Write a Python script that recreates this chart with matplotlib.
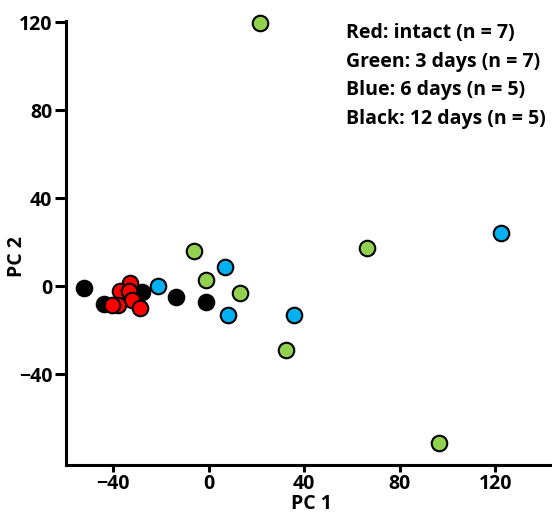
import matplotlib
matplotlib.use('Agg')
import matplotlib.pyplot as plt

# PCA scores
red_x = [-32.9, -37.3, -33.3, -32.1, -28.7, -38.1, -40.6]
red_y = [1.5, -2.1, -2.3, -6.1, -9.7, -8.6, -8.6]

green_x = [21.6, -6.2, -1.0, 13.2, 66.4, 32.3, 96.3]
green_y = [119.7, 15.9, 3.0, -2.9, 17.4, -29.1, -71.2]

blue_x = [-21.0, 6.7, 8.0, 35.9, 122.4]
blue_y = [0.2, 8.8, -13.2, -13.0, 24.4]

black_x = [-52.1, -43.9, -27.9, -13.6, -1.3]
black_y = [-0.9, -8.2, -2.6, -4.8, -7.0]

legend_lines = ["Red: intact (n = 7)", "Green: 3 days (n = 7)",
                "Blue: 6 days (n = 5)", "Black: 12 days (n = 5)"]

plt.rcParams['font.family'] = ['Open Sans', 'DejaVu Sans']
plt.rcParams['font.weight'] = 'bold'
fs = 14

fig = plt.figure(figsize=(5.52, 5.14), dpi=100)
ax = fig.add_axes([0.12, 0.095, 0.88, 0.864])

kw = dict(s=125, edgecolors='black', linewidths=1.5, zorder=3, clip_on=False)
ax.scatter(black_x, black_y, c='black', **kw)
ax.scatter(red_x, red_y, c='#FF0000', **kw)
ax.scatter(blue_x, blue_y, c='#00B0F0', **kw)
ax.scatter(green_x, green_y, c='#92D050', **kw)

ax.set_xlim(-59.6, 143.7)
ax.set_ylim(-81.4, 120.6)
ax.set_xticks([-40, 0, 40, 80, 120])
ax.set_yticks([-40, 0, 40, 80, 120])

for side in ['top', 'right']:
    ax.spines[side].set_visible(False)
for side in ['left', 'bottom']:
    ax.spines[side].set_linewidth(2.2)
ax.tick_params(axis='y', width=2.2, length=8, labelsize=fs, pad=2)
ax.tick_params(axis='x', width=2.2, length=5, labelsize=fs, pad=1)
for lab in ax.get_xticklabels() + ax.get_yticklabels():
    lab.set_fontweight('bold')

fig.text(0.565, 0.0, "PC 1", ha='center', va='bottom', fontsize=fs, fontweight='bold')
fig.text(0.012, 0.5, "PC 2", ha='left', va='center', rotation=90, fontsize=fs, fontweight='bold')

for i, line in enumerate(legend_lines):
    fig.text(0.626, 0.935 - i * 0.0555, line, ha='left', va='center',
             fontsize=fs, fontweight='bold')

fig.savefig('out.png', dpi=100)
